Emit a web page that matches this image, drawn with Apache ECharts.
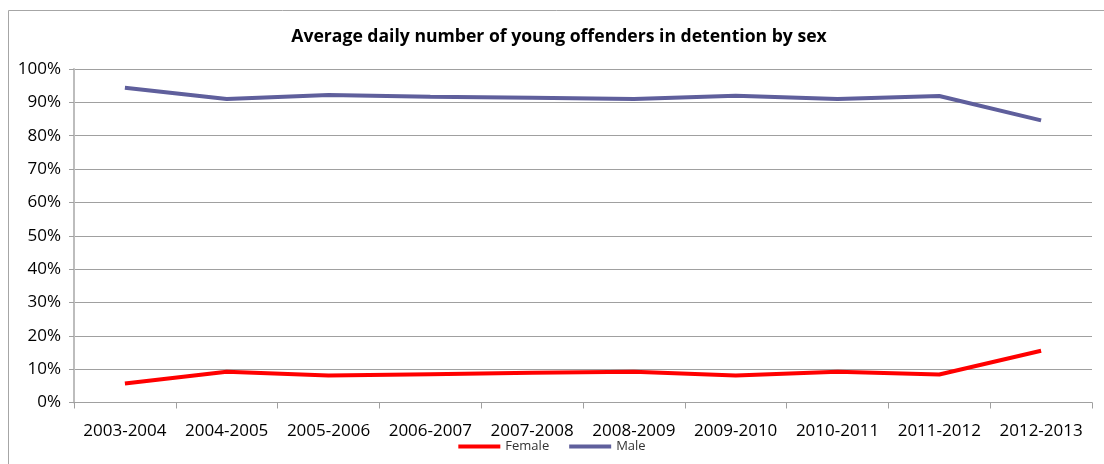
<!DOCTYPE html>
<html>
<head>
<meta charset="utf-8">
<script src="https://cdn.jsdelivr.net/npm/echarts@6/dist/echarts.min.js"></script>
<style>
  html, body { margin: 0; padding: 0; background: #fff; }
  #chart { width: 1104px; height: 464px; }
</style>
</head>
<body>
<div id="chart"></div>
<script>
// Financial years shown along the x axis
const years = ['2003-2004', '2004-2005', '2005-2006', '2006-2007', '2007-2008',
               '2008-2009', '2009-2010', '2010-2011', '2011-2012', '2012-2013'];

// Share of the average daily detention population (%)
const female = [5.7, 9.2, 8.1, 8.5, 8.9, 9.2, 8.1, 9.2, 8.4, 15.5];
const male   = [94.4, 91.0, 92.2, 91.7, 91.4, 91.0, 92.0, 91.0, 91.9, 84.6];

// Value-axis ticks (%)
const yTicks = [0, 10, 20, 30, 40, 50, 60, 70, 80, 90, 100];

const FONT = '"Open Sans", "Liberation Sans", sans-serif';

const chart = echarts.init(document.getElementById('chart'), null, { renderer: 'canvas' });

chart.setOption({
  animation: false,
  backgroundColor: '#ffffff',
  title: {
    text: 'Average daily number of young offenders in detention by sex',
    left: 554,
    textAlign: 'center',
    top: 23,
    textStyle: { fontFamily: FONT, fontSize: 17.6, fontWeight: 'bold', color: '#000' }
  },
  legend: {
    data: ['Female', 'Male'],
    left: 'center',
    top: 435,
    itemWidth: 42,
    itemHeight: 4,
    itemGap: 20,
    icon: 'rect',
    textStyle: { fontFamily: FONT, fontSize: 13, color: '#333', padding: [8, 0, 0, 0] }
  },
  graphic: [{
    type: 'polyline',
    shape: { points: [[8.5, 470], [8.5, 10.5], [1110, 10.5]] },
    style: { stroke: '#a6a6a6', lineWidth: 1, fill: null },
    silent: true
  }],
  grid: { left: 74, right: 12, top: 69, bottom: 61.5, containLabel: false },
  xAxis: {
    type: 'category',
    data: years,
    boundaryGap: true,
    axisLine: { lineStyle: { color: '#a0a0a0', width: 1 } },
    axisTick: { show: true, interval: 0, length: 6, lineStyle: { color: '#a0a0a0' } },
    axisLabel: { interval: 0, fontFamily: FONT, fontSize: 17, color: '#000', margin: 20 }
  },
  yAxis: {
    type: 'value',
    min: yTicks[0],
    max: yTicks[yTicks.length - 1],
    interval: yTicks[1] - yTicks[0],
    axisLine: { show: true, lineStyle: { color: '#bdbdbd', width: 2 } },
    axisTick: { show: true, length: 5, lineStyle: { color: '#a0a0a0' } },
    axisLabel: { fontFamily: FONT, fontSize: 17, color: '#000', margin: 13, formatter: '{value}%' },
    splitLine: { show: true, lineStyle: { color: '#a0a0a0', width: 1 } }
  },
  series: [
    {
      name: 'Female',
      type: 'line',
      data: female,
      symbol: 'none',
      color: '#ff0000',
      lineStyle: { color: '#ff0000', width: 4 }
    },
    {
      name: 'Male',
      type: 'line',
      data: male,
      symbol: 'none',
      color: '#5f5f9c',
      lineStyle: { color: '#5f5f9c', width: 4 }
    }
  ]
});
</script>
</body>
</html>
